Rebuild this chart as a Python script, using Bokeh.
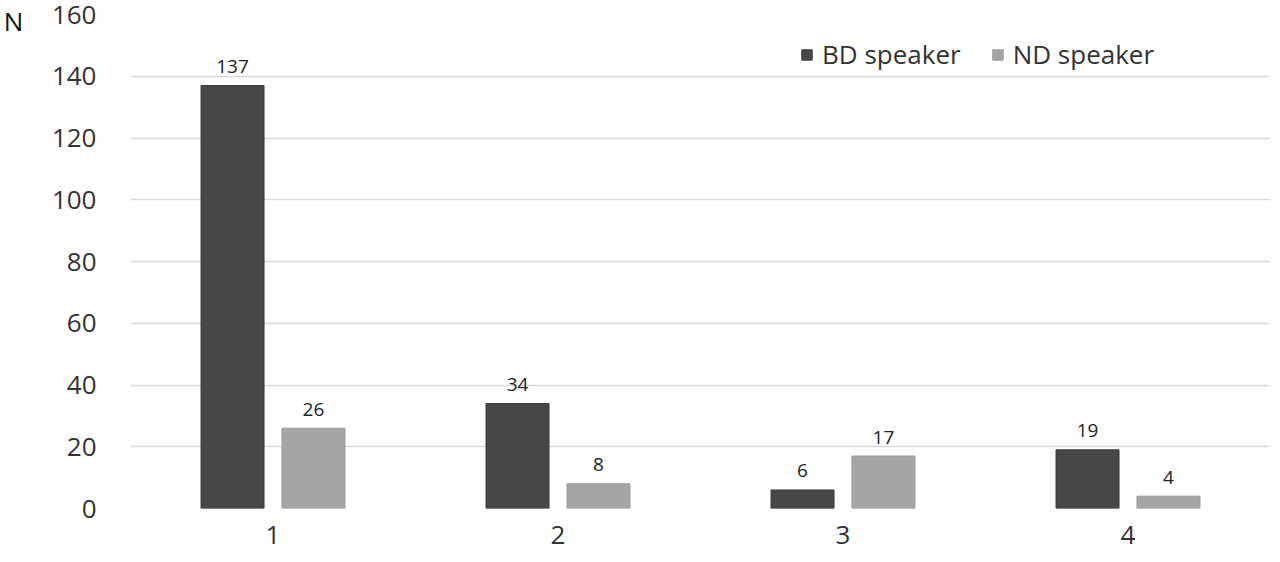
from bokeh.plotting import figure
from bokeh.models import ColumnDataSource, Range1d, FixedTicker, Label, Legend, LegendItem
from bokeh.transform import dodge
from bokeh.core.properties import value
from bokeh.embed import file_html
from bokeh.resources import INLINE

categories = [1, 2, 3, 4]
bd_speaker = [137, 34, 6, 19]
nd_speaker = [26, 8, 17, 4]
y_ticks = [0, 20, 40, 60, 80, 100, 120, 140, 160]

FONT = "Open Sans"
TXT = "#333333"

src = ColumnDataSource(dict(cat=categories, bd=bd_speaker, nd=nd_speaker,
                            bd_t=[str(v) for v in bd_speaker],
                            nd_t=[str(v) for v in nd_speaker]))

p = figure(width=1280, height=562, output_backend="svg", toolbar_location=None,
           x_range=Range1d(0.5, 4.5), y_range=Range1d(0, 160),
           min_border_left=130, min_border_right=10, min_border_top=14, min_border_bottom=54)
p.outline_line_color = None
p.xgrid.grid_line_color = None
p.ygrid.grid_line_color = "#d9d9d9"
p.ygrid.grid_line_width = 1.3
p.ygrid.ticker = FixedTicker(ticks=y_ticks)

p.yaxis.ticker = FixedTicker(ticks=y_ticks)
p.xaxis.ticker = FixedTicker(ticks=categories)
for ax in (p.xaxis, p.yaxis):
    ax.axis_line_color = None
    ax.major_tick_line_color = None
    ax.minor_tick_line_color = None
    ax.major_label_text_font = FONT
    ax.major_label_text_font_size = "26px"
    ax.major_label_text_color = TXT
p.yaxis.major_label_standoff = 28
p.xaxis.major_label_standoff = 11

w = 0.221
r1 = p.vbar(x=dodge("cat", -0.142, range=p.x_range), top="bd", width=w, source=src,
            fill_color="#474747", line_color="#383838", line_width=1)
r2 = p.vbar(x=dodge("cat", 0.142, range=p.x_range), top="nd", width=w, source=src,
            fill_color="#a5a5a5", line_color="#9a9a9a", line_width=1)

p.text(x=dodge("cat", -0.142, range=p.x_range), y="bd", text="bd_t", source=src,
       text_align="center", text_baseline="middle", y_offset=-19,
       text_font=value(FONT), text_font_size="19px", text_color="#222222")
p.text(x=dodge("cat", 0.142, range=p.x_range), y="nd", text="nd_t", source=src,
       text_align="center", text_baseline="middle", y_offset=-19,
       text_font=value(FONT), text_font_size="19px", text_color="#222222")

n_label = Label(x=-15, y=488, x_units="screen", y_units="screen", text="N",
                text_align="center", text_baseline="middle",
                text_font=FONT, text_font_size="26px", text_color="#111111")
p.add_layout(n_label, "left")

legend = Legend(items=[LegendItem(label="BD speaker", renderers=[r1]),
                       LegendItem(label="ND speaker", renderers=[r2])],
                orientation="horizontal", location=(670, 436),
                glyph_width=13, glyph_height=13, label_standoff=9, spacing=30,
                padding=0, margin=0, border_line_color=None, background_fill_alpha=0,
                label_text_font=FONT, label_text_font_size="26px", label_text_color=TXT)
p.add_layout(legend, "center")

open("out.html", "w").write(file_html(p, INLINE))
